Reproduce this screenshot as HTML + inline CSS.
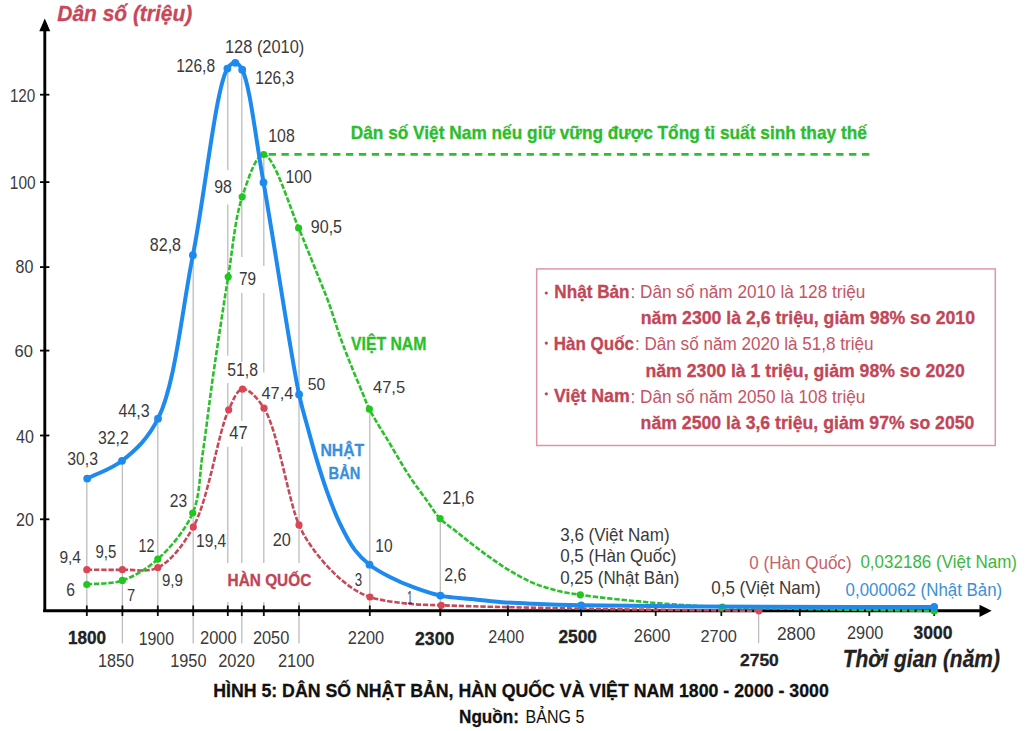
<!DOCTYPE html>
<html><head><meta charset="utf-8"><style>
html,body{margin:0;padding:0;background:#fff;width:1032px;height:731px;overflow:hidden}
svg{display:block;font-family:"Liberation Sans",sans-serif}
</style></head><body>
<svg width="1032" height="731" viewBox="0 0 1032 731">
<line x1="86.8" y1="478" x2="86.8" y2="616" stroke="#bdbdbd" stroke-width="1.3"/>
<line x1="122.4" y1="461" x2="122.4" y2="643.5" stroke="#bdbdbd" stroke-width="1.3"/>
<line x1="157.8" y1="419" x2="157.8" y2="616" stroke="#bdbdbd" stroke-width="1.3"/>
<line x1="193.2" y1="255" x2="193.2" y2="643.5" stroke="#bdbdbd" stroke-width="1.3"/>
<line x1="227.8" y1="69" x2="227.8" y2="170" stroke="#bdbdbd" stroke-width="1.3"/>
<line x1="227.8" y1="204.4" x2="227.8" y2="355.8" stroke="#bdbdbd" stroke-width="1.3"/>
<line x1="227.8" y1="383" x2="227.8" y2="415.5" stroke="#bdbdbd" stroke-width="1.3"/>
<line x1="227.8" y1="446.7" x2="227.8" y2="563" stroke="#bdbdbd" stroke-width="1.3"/>
<line x1="227.8" y1="602" x2="227.8" y2="616" stroke="#bdbdbd" stroke-width="1.3"/>
<line x1="241.8" y1="70" x2="241.8" y2="257" stroke="#bdbdbd" stroke-width="1.3"/>
<line x1="241.8" y1="293" x2="241.8" y2="362" stroke="#bdbdbd" stroke-width="1.3"/>
<line x1="241.8" y1="388" x2="241.8" y2="420.7" stroke="#bdbdbd" stroke-width="1.3"/>
<line x1="241.8" y1="446.7" x2="241.8" y2="563" stroke="#bdbdbd" stroke-width="1.3"/>
<line x1="241.8" y1="602" x2="241.8" y2="643.5" stroke="#bdbdbd" stroke-width="1.3"/>
<line x1="263.8" y1="155" x2="263.8" y2="266" stroke="#bdbdbd" stroke-width="1.3"/>
<line x1="263.8" y1="293" x2="263.8" y2="372.6" stroke="#bdbdbd" stroke-width="1.3"/>
<line x1="263.8" y1="407.7" x2="263.8" y2="563" stroke="#bdbdbd" stroke-width="1.3"/>
<line x1="263.8" y1="602" x2="263.8" y2="616" stroke="#bdbdbd" stroke-width="1.3"/>
<line x1="299.0" y1="228" x2="299.0" y2="563" stroke="#bdbdbd" stroke-width="1.3"/>
<line x1="299.0" y1="602" x2="299.0" y2="643.5" stroke="#bdbdbd" stroke-width="1.3"/>
<line x1="369.8" y1="409" x2="369.8" y2="616" stroke="#bdbdbd" stroke-width="1.3"/>
<line x1="440.3" y1="519" x2="440.3" y2="616" stroke="#bdbdbd" stroke-width="1.3"/>
<line x1="758.6" y1="606" x2="758.6" y2="643" stroke="#bdbdbd" stroke-width="1.3"/>
<line x1="86.8" y1="605.5" x2="86.8" y2="616" stroke="#111" stroke-width="1.8"/>
<line x1="122.4" y1="605.5" x2="122.4" y2="616" stroke="#111" stroke-width="1.8"/>
<line x1="157.8" y1="605.5" x2="157.8" y2="616" stroke="#111" stroke-width="1.8"/>
<line x1="193.2" y1="605.5" x2="193.2" y2="616" stroke="#111" stroke-width="1.8"/>
<line x1="227.8" y1="605.5" x2="227.8" y2="616" stroke="#111" stroke-width="1.8"/>
<line x1="241.8" y1="605.5" x2="241.8" y2="616" stroke="#111" stroke-width="1.8"/>
<line x1="263.8" y1="605.5" x2="263.8" y2="616" stroke="#111" stroke-width="1.8"/>
<line x1="299.0" y1="605.5" x2="299.0" y2="616" stroke="#111" stroke-width="1.8"/>
<line x1="369.8" y1="605.5" x2="369.8" y2="616" stroke="#111" stroke-width="1.8"/>
<line x1="440.3" y1="605.5" x2="440.3" y2="616" stroke="#111" stroke-width="1.8"/>
<line x1="507.9" y1="605.5" x2="507.9" y2="616" stroke="#111" stroke-width="1.8"/>
<line x1="581.2" y1="605.5" x2="581.2" y2="616" stroke="#111" stroke-width="1.8"/>
<line x1="655.7" y1="605.5" x2="655.7" y2="616" stroke="#111" stroke-width="1.8"/>
<line x1="721.3" y1="605.5" x2="721.3" y2="616" stroke="#111" stroke-width="1.8"/>
<line x1="799.8" y1="605.5" x2="799.8" y2="616" stroke="#111" stroke-width="1.8"/>
<line x1="869.3" y1="605.5" x2="869.3" y2="616" stroke="#111" stroke-width="1.8"/>
<line x1="934.2" y1="605.5" x2="934.2" y2="616" stroke="#111" stroke-width="1.8"/>
<line x1="44.8" y1="28" x2="44.8" y2="612" stroke="#000" stroke-width="2.9"/>
<polygon points="44.8,18.4 39.3,31.2 50.3,31.2" fill="#000"/>
<line x1="43.2" y1="610.8" x2="981" y2="610.8" stroke="#000" stroke-width="3.0"/>
<polygon points="991.7,610.8 979.5,604.6999999999999 979.5,616.9" fill="#000"/>
<line x1="40" y1="94.7" x2="49.4" y2="94.7" stroke="#000" stroke-width="1.8"/>
<line x1="40" y1="182.1" x2="49.4" y2="182.1" stroke="#000" stroke-width="1.8"/>
<line x1="40" y1="267.1" x2="49.4" y2="267.1" stroke="#000" stroke-width="1.8"/>
<line x1="40" y1="350.6" x2="49.4" y2="350.6" stroke="#000" stroke-width="1.8"/>
<line x1="40" y1="435.5" x2="49.4" y2="435.5" stroke="#000" stroke-width="1.8"/>
<line x1="40" y1="519.3" x2="49.4" y2="519.3" stroke="#000" stroke-width="1.8"/>
<line x1="263.7" y1="154.4" x2="869.6" y2="154.4" stroke="#2bc02b" stroke-width="2.6" stroke-dasharray="7.3 5.6" stroke-dashoffset="-4.9"/>
<path d="M86.80,569.70 C98.67,569.70 110.56,570.05 122.40,569.70 C134.22,569.35 146.99,572.91 157.80,567.60 C171.14,561.05 183.06,545.40 193.30,526.90 C208.71,499.05 218.00,432.48 228.70,409.80 C233.52,399.57 236.90,389.82 242.50,389.10 C248.52,388.32 257.32,397.74 264.00,408.20 C277.74,429.74 288.34,500.68 299.00,524.90 C304.21,536.74 308.26,542.06 313.90,549.90 C319.53,557.73 326.23,565.41 332.80,571.90 C338.84,577.88 345.11,583.42 351.60,587.70 C357.55,591.63 362.68,594.54 370.00,597.00 C379.62,600.23 393.19,602.02 405.00,603.40 C416.92,604.80 424.86,604.68 441.20,605.30 C475.41,606.60 547.06,608.08 600.00,609.00 C652.96,609.92 705.93,610.20 758.90,610.80" fill="none" stroke="#c44a5a" stroke-width="2.6" stroke-dasharray="5.4 1.8"/>
<circle cx="86.8" cy="569.7" r="3.6" fill="#da4656"/>
<circle cx="122.4" cy="569.7" r="3.6" fill="#da4656"/>
<circle cx="157.8" cy="567.6" r="3.6" fill="#da4656"/>
<circle cx="193.3" cy="526.9" r="3.6" fill="#da4656"/>
<circle cx="228.7" cy="409.8" r="3.6" fill="#da4656"/>
<circle cx="242.5" cy="389.1" r="3.6" fill="#da4656"/>
<circle cx="264" cy="408.2" r="3.6" fill="#da4656"/>
<circle cx="299" cy="524.9" r="3.6" fill="#da4656"/>
<circle cx="370" cy="597" r="3.6" fill="#da4656"/>
<circle cx="441.2" cy="605.3" r="3.6" fill="#da4656"/>
<circle cx="758.9" cy="610.8" r="3.6" fill="#da4656"/>
<path d="M86.80,584.50 C98.67,583.13 110.96,584.30 122.40,580.40 C134.69,576.22 146.90,568.90 157.80,559.10 C170.69,547.51 185.24,530.28 192.70,513.00 C200.24,495.53 199.39,475.31 202.50,454.70 C205.99,431.55 209.18,403.65 212.40,380.80 C215.19,361.00 217.88,343.26 220.60,325.40 C223.15,308.66 225.19,294.99 228.20,276.80 C232.07,253.42 234.86,218.81 242.20,196.80 C247.81,179.98 255.79,154.39 263.70,154.50 C274.06,154.64 291.20,211.30 298.60,228.00 C302.36,236.48 303.74,240.38 306.60,247.40 C309.99,255.72 313.95,265.59 317.60,274.70 C321.25,283.82 324.93,292.34 328.50,302.10 C332.51,313.07 336.36,326.43 340.30,337.40 C343.79,347.13 347.16,355.62 350.80,364.70 C354.46,373.85 358.83,384.04 362.20,392.10 C364.87,398.47 366.11,402.67 369.40,409.20 C374.18,418.69 382.81,431.86 389.40,442.90 C395.78,453.59 401.81,464.45 408.30,474.40 C414.43,483.79 421.46,493.16 427.20,501.10 C431.88,507.57 435.24,513.55 440.10,518.60 C444.73,523.41 450.36,526.79 455.50,530.90 C460.66,535.02 465.80,539.26 471.00,543.30 C476.14,547.29 481.30,551.23 486.50,555.00 C491.63,558.72 496.78,562.42 502.00,565.80 C507.11,569.11 512.28,572.23 517.50,575.10 C522.61,577.92 527.76,580.68 533.00,582.90 C538.10,585.06 543.30,586.74 548.50,588.30 C553.63,589.84 558.74,591.12 564.00,592.20 C569.34,593.30 574.10,593.91 580.30,594.80 C588.47,595.97 599.25,597.32 608.80,598.40 C618.42,599.49 628.47,600.41 637.80,601.30 C646.49,602.13 652.82,602.84 663.00,603.60 C678.59,604.77 696.43,606.10 722.30,607.10 C771.16,608.99 863.57,609.70 934.20,611.00" fill="none" stroke="#2bc02b" stroke-width="2.6" stroke-dasharray="5.4 1.8"/>
<circle cx="86.8" cy="584.5" r="3.6" fill="#1ec81e"/>
<circle cx="122.4" cy="580.4" r="3.6" fill="#1ec81e"/>
<circle cx="157.8" cy="559.1" r="3.6" fill="#1ec81e"/>
<circle cx="192.7" cy="513" r="3.6" fill="#1ec81e"/>
<circle cx="228.2" cy="276.8" r="3.6" fill="#1ec81e"/>
<circle cx="242.2" cy="196.8" r="3.6" fill="#1ec81e"/>
<circle cx="263.7" cy="154.5" r="3.6" fill="#1ec81e"/>
<circle cx="298.6" cy="228" r="3.6" fill="#1ec81e"/>
<circle cx="369.4" cy="409.2" r="3.6" fill="#1ec81e"/>
<circle cx="440.1" cy="518.6" r="3.6" fill="#1ec81e"/>
<circle cx="580.3" cy="594.8" r="3.6" fill="#1ec81e"/>
<circle cx="722.3" cy="607.1" r="3.6" fill="#1ec81e"/>
<circle cx="934.2" cy="611" r="3.6" fill="#1ec81e"/>
<path d="M87.20,478.60 C98.80,472.67 111.09,469.41 122.00,460.80 C134.98,450.55 147.94,439.07 158.00,418.70 C175.48,383.32 181.67,311.58 192.90,255.20 C204.86,195.13 215.83,87.05 227.40,68.60 C230.03,64.41 232.83,62.61 235.30,62.80 C237.76,62.99 239.95,65.44 242.20,69.70 C249.91,84.29 255.74,138.90 263.50,182.40 C274.13,241.97 290.61,354.74 299.10,394.50 C302.46,410.26 304.69,416.41 307.60,427.20 C310.46,437.81 313.26,448.24 316.40,458.70 C319.56,469.21 322.76,479.69 326.50,490.10 C330.29,500.66 334.22,511.53 339.00,521.60 C343.68,531.45 349.07,542.29 354.80,549.90 C359.40,556.01 363.93,560.32 369.50,564.70 C375.38,569.32 382.25,573.00 389.40,576.70 C397.18,580.72 406.06,584.54 414.60,587.70 C423.06,590.83 431.34,593.71 440.40,595.60 C450.08,597.62 460.76,598.00 471.00,599.10 C481.30,600.20 491.66,601.42 502.00,602.20 C512.32,602.98 521.53,603.33 533.00,603.80 C547.30,604.39 561.57,604.90 581.20,605.30 C612.02,605.94 653.74,606.22 700.00,606.50 C764.95,606.90 856.13,606.83 934.20,607.00" fill="none" stroke="#1f8aee" stroke-width="4.0" stroke-linecap="round"/>
<circle cx="87.2" cy="478.6" r="3.9" fill="#1f8aee"/>
<circle cx="122" cy="460.8" r="3.9" fill="#1f8aee"/>
<circle cx="158" cy="418.7" r="3.9" fill="#1f8aee"/>
<circle cx="192.9" cy="255.2" r="3.9" fill="#1f8aee"/>
<circle cx="227.4" cy="68.6" r="3.9" fill="#1f8aee"/>
<circle cx="235.3" cy="62.8" r="3.9" fill="#1f8aee"/>
<circle cx="242.2" cy="69.7" r="3.9" fill="#1f8aee"/>
<circle cx="263.5" cy="182.4" r="3.9" fill="#1f8aee"/>
<circle cx="299.1" cy="394.5" r="3.9" fill="#1f8aee"/>
<circle cx="369.5" cy="564.7" r="3.9" fill="#1f8aee"/>
<circle cx="440.4" cy="595.6" r="3.9" fill="#1f8aee"/>
<circle cx="581.2" cy="605.3" r="3.9" fill="#1f8aee"/>
<circle cx="934.2" cy="607.0" r="3.9" fill="#1f8aee"/>
<rect x="536.7" y="268.9" width="458.6" height="176.6" fill="none" stroke="#dc98a2" stroke-width="1.5"/>
<circle cx="546.3" cy="293.0" r="1.6" fill="#c24656"/>
<circle cx="546.3" cy="343.1" r="1.6" fill="#c24656"/>
<circle cx="546.3" cy="393.8" r="1.6" fill="#c24656"/>
<text x="9.90" y="102.00" font-size="18.87" font-weight="normal" font-style="normal" fill="#3a3a3a" textLength="25.38" lengthAdjust="spacingAndGlyphs">120</text>
<text x="9.80" y="189.00" font-size="17.87" font-weight="normal" font-style="normal" fill="#3a3a3a" textLength="25.78" lengthAdjust="spacingAndGlyphs">100</text>
<text x="15.60" y="272.90" font-size="18.16" font-weight="normal" font-style="normal" fill="#3a3a3a" textLength="17.84" lengthAdjust="spacingAndGlyphs">80</text>
<text x="14.60" y="357.00" font-size="17.3" font-weight="normal" font-style="normal" fill="#3a3a3a" textLength="18.34" lengthAdjust="spacingAndGlyphs">60</text>
<text x="16.00" y="443.30" font-size="17.45" font-weight="normal" font-style="normal" fill="#3a3a3a" textLength="17.84" lengthAdjust="spacingAndGlyphs">40</text>
<text x="16.00" y="526.40" font-size="19.01" font-weight="normal" font-style="normal" fill="#3a3a3a" textLength="17.84" lengthAdjust="spacingAndGlyphs">20</text>
<text x="176.20" y="71.80" font-size="17.45" font-weight="normal" font-style="normal" fill="#3a3a3a" textLength="38.86" lengthAdjust="spacingAndGlyphs">126,8</text>
<text x="225.00" y="53.00" font-size="17.45" font-weight="normal" font-style="normal" fill="#3a3a3a" textLength="79.23" lengthAdjust="spacingAndGlyphs">128 (2010)</text>
<text x="255.30" y="83.70" font-size="18.01" font-weight="normal" font-style="normal" fill="#3a3a3a" textLength="38.86" lengthAdjust="spacingAndGlyphs">126,3</text>
<text x="268.30" y="141.50" font-size="17.87" font-weight="normal" font-style="normal" fill="#3a3a3a" textLength="26.48" lengthAdjust="spacingAndGlyphs">108</text>
<text x="149.80" y="250.90" font-size="18.01" font-weight="normal" font-style="normal" fill="#3a3a3a" textLength="31.22" lengthAdjust="spacingAndGlyphs">82,8</text>
<text x="214.30" y="193.10" font-size="18.01" font-weight="normal" font-style="normal" fill="#3a3a3a" textLength="17.64" lengthAdjust="spacingAndGlyphs">98</text>
<text x="285.60" y="182.80" font-size="18.01" font-weight="normal" font-style="normal" fill="#3a3a3a" textLength="26.28" lengthAdjust="spacingAndGlyphs">100</text>
<text x="310.80" y="232.50" font-size="18.16" font-weight="normal" font-style="normal" fill="#3a3a3a" textLength="31.22" lengthAdjust="spacingAndGlyphs">90,5</text>
<text x="238.90" y="285.40" font-size="18.01" font-weight="normal" font-style="normal" fill="#3a3a3a" textLength="17.04" lengthAdjust="spacingAndGlyphs">79</text>
<text x="227.30" y="376.40" font-size="17.45" font-weight="normal" font-style="normal" fill="#3a3a3a" textLength="30.72" lengthAdjust="spacingAndGlyphs">51,8</text>
<text x="261.50" y="399.40" font-size="16.6" font-weight="normal" font-style="normal" fill="#3a3a3a" textLength="31.82" lengthAdjust="spacingAndGlyphs">47,4</text>
<text x="307.70" y="390.40" font-size="16.88" font-weight="normal" font-style="normal" fill="#3a3a3a" textLength="17.44" lengthAdjust="spacingAndGlyphs">50</text>
<text x="229.30" y="439.00" font-size="17.45" font-weight="normal" font-style="normal" fill="#3a3a3a" textLength="18.34" lengthAdjust="spacingAndGlyphs">47</text>
<text x="373.00" y="393.20" font-size="16.6" font-weight="normal" font-style="normal" fill="#3a3a3a" textLength="32.12" lengthAdjust="spacingAndGlyphs">47,5</text>
<text x="67.30" y="464.90" font-size="19.01" font-weight="normal" font-style="normal" fill="#3a3a3a" textLength="30.72" lengthAdjust="spacingAndGlyphs">30,3</text>
<text x="98.00" y="443.70" font-size="18.58" font-weight="normal" font-style="normal" fill="#3a3a3a" textLength="30.82" lengthAdjust="spacingAndGlyphs">32,2</text>
<text x="118.60" y="417.10" font-size="18.01" font-weight="normal" font-style="normal" fill="#3a3a3a" textLength="31.12" lengthAdjust="spacingAndGlyphs">44,3</text>
<text x="169.80" y="506.90" font-size="18.01" font-weight="normal" font-style="normal" fill="#3a3a3a" textLength="17.34" lengthAdjust="spacingAndGlyphs">23</text>
<text x="196.00" y="546.80" font-size="18.01" font-weight="normal" font-style="normal" fill="#3a3a3a" textLength="30.22" lengthAdjust="spacingAndGlyphs">19,4</text>
<text x="272.70" y="546.40" font-size="17.45" font-weight="normal" font-style="normal" fill="#3a3a3a" textLength="18.14" lengthAdjust="spacingAndGlyphs">20</text>
<text x="354.80" y="585.80" font-size="17.45" font-weight="normal" font-style="normal" fill="#3a3a3a" textLength="7.42" lengthAdjust="spacingAndGlyphs">3</text>
<text x="407.20" y="603.50" font-size="18.58" font-weight="normal" font-style="normal" fill="#3a3a3a" textLength="5.21" lengthAdjust="spacingAndGlyphs">1</text>
<text x="442.60" y="504.30" font-size="18.16" font-weight="normal" font-style="normal" fill="#3a3a3a" textLength="31.62" lengthAdjust="spacingAndGlyphs">21,6</text>
<text x="375.30" y="552.20" font-size="17.45" font-weight="normal" font-style="normal" fill="#3a3a3a" textLength="17.24" lengthAdjust="spacingAndGlyphs">10</text>
<text x="444.20" y="581.40" font-size="17.45" font-weight="normal" font-style="normal" fill="#3a3a3a" textLength="22.20" lengthAdjust="spacingAndGlyphs">2,6</text>
<text x="59.40" y="563.20" font-size="17.3" font-weight="normal" font-style="normal" fill="#3a3a3a" textLength="21.60" lengthAdjust="spacingAndGlyphs">9,4</text>
<text x="95.50" y="557.80" font-size="17.45" font-weight="normal" font-style="normal" fill="#3a3a3a" textLength="20.80" lengthAdjust="spacingAndGlyphs">9,5</text>
<text x="138.50" y="551.70" font-size="17.45" font-weight="normal" font-style="normal" fill="#3a3a3a" textLength="15.93" lengthAdjust="spacingAndGlyphs">12</text>
<text x="66.30" y="596.00" font-size="17.45" font-weight="normal" font-style="normal" fill="#3a3a3a" textLength="8.72" lengthAdjust="spacingAndGlyphs">6</text>
<text x="127.00" y="601.20" font-size="16.74" font-weight="normal" font-style="normal" fill="#3a3a3a" textLength="8.22" lengthAdjust="spacingAndGlyphs">7</text>
<text x="161.90" y="586.20" font-size="17.3" font-weight="normal" font-style="normal" fill="#3a3a3a" textLength="20.90" lengthAdjust="spacingAndGlyphs">9,9</text>
<text x="560.20" y="541.40" font-size="17.59" font-weight="normal" font-style="normal" fill="#3a3a3a" textLength="109.37" lengthAdjust="spacingAndGlyphs">3,6 (Việt Nam)</text>
<text x="560.20" y="562.10" font-size="17.59" font-weight="normal" font-style="normal" fill="#3a3a3a" textLength="116.23" lengthAdjust="spacingAndGlyphs">0,5 (Hàn Quốc)</text>
<text x="560.20" y="583.80" font-size="17.59" font-weight="normal" font-style="normal" fill="#3a3a3a" textLength="119.30" lengthAdjust="spacingAndGlyphs">0,25 (Nhật Bản)</text>
<text x="749.30" y="569.30" font-size="18.58" font-weight="normal" font-style="normal" fill="#c8606a" textLength="102.26" lengthAdjust="spacingAndGlyphs">0 (Hàn Quốc)</text>
<text x="711.20" y="594.10" font-size="17.59" font-weight="normal" font-style="normal" fill="#3a3a3a" textLength="109.37" lengthAdjust="spacingAndGlyphs">0,5 (Việt Nam)</text>
<text x="860.40" y="567.70" font-size="18.72" font-weight="normal" font-style="normal" fill="#3cb83c" textLength="156.59" lengthAdjust="spacingAndGlyphs">0,032186 (Việt Nam)</text>
<text x="845.60" y="596.30" font-size="18.3" font-weight="normal" font-style="normal" fill="#3d8fd6" textLength="156.59" lengthAdjust="spacingAndGlyphs">0,000062 (Nhật Bản)</text>
<text x="67.90" y="644.10" font-size="18.72" font-weight="bold" font-style="normal" fill="#222" stroke="#222" stroke-width="0.3" textLength="38.19" lengthAdjust="spacingAndGlyphs">1800</text>
<text x="138.70" y="644.80" font-size="18.72" font-weight="normal" font-style="normal" fill="#3a3a3a" textLength="35.30" lengthAdjust="spacingAndGlyphs">1900</text>
<text x="200.00" y="644.00" font-size="18.44" font-weight="normal" font-style="normal" fill="#3a3a3a" textLength="36.69" lengthAdjust="spacingAndGlyphs">2000</text>
<text x="252.90" y="644.00" font-size="18.44" font-weight="normal" font-style="normal" fill="#3a3a3a" textLength="36.39" lengthAdjust="spacingAndGlyphs">2050</text>
<text x="98.00" y="666.50" font-size="18.72" font-weight="normal" font-style="normal" fill="#3a3a3a" textLength="35.89" lengthAdjust="spacingAndGlyphs">1850</text>
<text x="170.20" y="666.50" font-size="18.72" font-weight="normal" font-style="normal" fill="#3a3a3a" textLength="36.29" lengthAdjust="spacingAndGlyphs">1950</text>
<text x="218.20" y="666.50" font-size="18.72" font-weight="normal" font-style="normal" fill="#3a3a3a" textLength="36.59" lengthAdjust="spacingAndGlyphs">2020</text>
<text x="277.90" y="666.50" font-size="18.72" font-weight="normal" font-style="normal" fill="#3a3a3a" textLength="36.59" lengthAdjust="spacingAndGlyphs">2100</text>
<text x="347.80" y="644.00" font-size="18.87" font-weight="normal" font-style="normal" fill="#3a3a3a" textLength="36.39" lengthAdjust="spacingAndGlyphs">2200</text>
<text x="415.00" y="644.60" font-size="18.58" font-weight="bold" font-style="normal" fill="#222" stroke="#222" stroke-width="0.3" textLength="39.29" lengthAdjust="spacingAndGlyphs">2300</text>
<text x="488.30" y="642.70" font-size="18.44" font-weight="normal" font-style="normal" fill="#3a3a3a" textLength="35.79" lengthAdjust="spacingAndGlyphs">2400</text>
<text x="558.40" y="642.70" font-size="17.73" font-weight="bold" font-style="normal" fill="#222" stroke="#222" stroke-width="0.3" textLength="38.49" lengthAdjust="spacingAndGlyphs">2500</text>
<text x="633.80" y="641.80" font-size="17.45" font-weight="normal" font-style="normal" fill="#3a3a3a" textLength="36.59" lengthAdjust="spacingAndGlyphs">2600</text>
<text x="700.50" y="642.10" font-size="17.3" font-weight="normal" font-style="normal" fill="#3a3a3a" textLength="36.39" lengthAdjust="spacingAndGlyphs">2700</text>
<text x="740.00" y="665.50" font-size="17.3" font-weight="bold" font-style="normal" fill="#222" stroke="#222" stroke-width="0.3" textLength="38.79" lengthAdjust="spacingAndGlyphs">2750</text>
<text x="776.90" y="640.00" font-size="18.44" font-weight="normal" font-style="normal" fill="#3a3a3a" textLength="38.59" lengthAdjust="spacingAndGlyphs">2800</text>
<text x="847.00" y="639.00" font-size="18.01" font-weight="normal" font-style="normal" fill="#3a3a3a" textLength="36.29" lengthAdjust="spacingAndGlyphs">2900</text>
<text x="913.60" y="638.50" font-size="18.3" font-weight="bold" font-style="normal" fill="#222" stroke="#222" stroke-width="0.3" textLength="38.89" lengthAdjust="spacingAndGlyphs">3000</text>
<text x="842.80" y="666.60" font-size="23.94" font-weight="bold" font-style="italic" fill="#222" stroke="#222" stroke-width="0.3" textLength="157.09" lengthAdjust="spacingAndGlyphs">Thời gian (năm)</text>
<text x="320.40" y="455.80" font-size="17.08" font-weight="bold" font-style="normal" fill="#3a8fdc" stroke="#3a8fdc" stroke-width="0.3" textLength="43.74" lengthAdjust="spacingAndGlyphs">NHẬT</text>
<text x="328.60" y="479.00" font-size="17.37" font-weight="bold" font-style="normal" fill="#3a8fdc" stroke="#3a8fdc" stroke-width="0.3" textLength="31.82" lengthAdjust="spacingAndGlyphs">BẢN</text>
<text x="227.60" y="586.40" font-size="16.5" font-weight="bold" font-style="normal" fill="#c04456" stroke="#c04456" stroke-width="0.3" textLength="83.69" lengthAdjust="spacingAndGlyphs">HÀN QUỐC</text>
<text x="351.00" y="349.90" font-size="17.81" font-weight="bold" font-style="normal" fill="#2bbf2b" stroke="#2bbf2b" stroke-width="0.3" textLength="75.37" lengthAdjust="spacingAndGlyphs">VIỆT NAM</text>
<text x="350.70" y="139.10" font-size="17.52" font-weight="bold" font-style="normal" fill="#2cbd2c" stroke="#2cbd2c" stroke-width="0.3" textLength="516.19" lengthAdjust="spacingAndGlyphs">Dân số Việt Nam nếu giữ vững được Tổng tỉ suất sinh thay thế</text>
<text x="57.30" y="20.60" font-size="21.17" font-weight="bold" font-style="italic" fill="#c8475a" stroke="#c8475a" stroke-width="0.3" textLength="134.90" lengthAdjust="spacingAndGlyphs">Dân số (triệu)</text>
<text x="554.30" y="297.50" font-size="18.83" font-weight="bold" font-style="normal" fill="#c24656" stroke="#c24656" stroke-width="0.3" textLength="75.29" lengthAdjust="spacingAndGlyphs">Nhật Bản</text>
<text x="630.50" y="297.50" font-size="17.52" font-weight="normal" font-style="normal" fill="#c65464" textLength="234.91" lengthAdjust="spacingAndGlyphs">: Dân số năm 2010 là 128 triệu</text>
<text x="640.80" y="324.00" font-size="18.44" font-weight="bold" font-style="normal" fill="#c24656" stroke="#c24656" stroke-width="0.3" textLength="334.19" lengthAdjust="spacingAndGlyphs">năm 2300 là 2,6 triệu, giảm 98% so 2010</text>
<text x="553.80" y="349.90" font-size="18.83" font-weight="bold" font-style="normal" fill="#c24656" stroke="#c24656" stroke-width="0.3" textLength="80.26" lengthAdjust="spacingAndGlyphs">Hàn Quốc</text>
<text x="635.00" y="349.50" font-size="17.52" font-weight="normal" font-style="normal" fill="#c65464" textLength="238.57" lengthAdjust="spacingAndGlyphs">: Dân số năm 2020 là 51,8 triệu</text>
<text x="645.50" y="376.80" font-size="18.3" font-weight="bold" font-style="normal" fill="#c24656" stroke="#c24656" stroke-width="0.3" textLength="319.21" lengthAdjust="spacingAndGlyphs">năm 2300 là 1 triệu, giảm 98% so 2020</text>
<text x="554.00" y="402.30" font-size="18.98" font-weight="bold" font-style="normal" fill="#c24656" stroke="#c24656" stroke-width="0.3" textLength="75.72" lengthAdjust="spacingAndGlyphs">Việt Nam</text>
<text x="630.50" y="402.50" font-size="17.52" font-weight="normal" font-style="normal" fill="#c65464" textLength="234.91" lengthAdjust="spacingAndGlyphs">: Dân số năm 2050 là 108 triệu</text>
<text x="640.60" y="428.90" font-size="18.3" font-weight="bold" font-style="normal" fill="#c24656" stroke="#c24656" stroke-width="0.3" textLength="333.79" lengthAdjust="spacingAndGlyphs">năm 2500 là 3,6 triệu, giảm 97% so 2050</text>
<text x="213.20" y="696.70" font-size="19.12" font-weight="bold" font-style="normal" fill="#111" stroke="#111" stroke-width="0.3" textLength="615.60" lengthAdjust="spacingAndGlyphs">HÌNH 5: DÂN SỐ NHẬT BẢN, HÀN QUỐC VÀ VIỆT NAM 1800 - 2000 - 3000</text>
<text x="459.00" y="722.60" font-size="19.12" font-weight="bold" font-style="normal" fill="#111" stroke="#111" stroke-width="0.3" textLength="59.98" lengthAdjust="spacingAndGlyphs">Nguồn:</text>
<text x="525.60" y="722.60" font-size="19.12" font-weight="normal" font-style="normal" fill="#111" textLength="58.77" lengthAdjust="spacingAndGlyphs">BẢNG 5</text>
</svg></body></html>
